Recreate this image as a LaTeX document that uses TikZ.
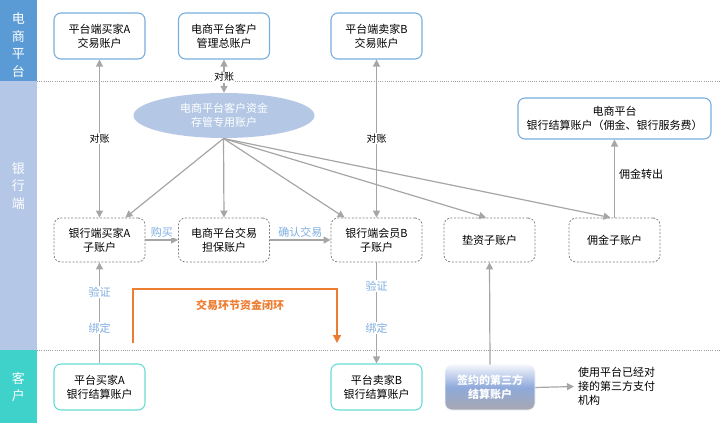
\documentclass[tikz,border=0pt]{standalone}
\usepackage{fontspec}
\setmainfont{Noto Sans CJK SC}
\usetikzlibrary{arrows.meta,shapes.geometric}
\definecolor{bandtop}{HTML}{5B9BD5}
\definecolor{bandmid}{HTML}{B4C7E7}
\definecolor{bandbot}{HTML}{3ED2CA}
\definecolor{bluebd}{HTML}{7AAEE0}
\definecolor{tealbd}{HTML}{6ADCD5}
\definecolor{dashgray}{HTML}{808080}
\definecolor{arrgray}{HTML}{A6A6A6}
\definecolor{ellfill}{HTML}{B4C8E6}
\definecolor{lblblue}{HTML}{7FAEE0}
\definecolor{orangeln}{HTML}{ED7D31}
\definecolor{dotgray}{HTML}{A0A0A0}
\definecolor{gradmid}{HTML}{8EA9DB}
\definecolor{gradtop}{HTML}{F2F5FB}
\definecolor{gradbot}{HTML}{A8A8B0}
\newcommand\myNodeFont{\fontsize{11pt}{14pt}\selectfont}
\newcommand\myLabFont{\fontsize{10pt}{12pt}\selectfont}
\newcommand\myBandFont{\fontsize{13pt}{17.5pt}\selectfont}
\tikzset{
  topbox/.style={draw=bluebd, line width=1.1pt, rounded corners=7pt, minimum width=91pt, minimum height=46pt, align=center, inner sep=0pt, font=\myNodeFont, fill=white},
  subbox/.style={draw=dashgray, dash pattern=on 2pt off 1.6pt, line width=0.8pt, rounded corners=7pt, minimum width=91pt, minimum height=44pt, align=center, inner sep=0pt, font=\myNodeFont, fill=white},
  custbox/.style={draw=tealbd, line width=1.1pt, rounded corners=7pt, minimum width=91pt, minimum height=46pt, align=center, inner sep=0pt, font=\myNodeFont, fill=white},
  conn/.style={draw=arrgray, line width=1.2pt, -{Triangle[length=7pt,width=7pt]}},
  biconn/.style={draw=arrgray, line width=1.2pt, {Triangle[length=7pt,width=7pt]}-{Triangle[length=7pt,width=7pt]}},
  lab/.style={font=\myLabFont, fill=white, inner sep=1pt},
  bluelab/.style={font=\myNodeFont, text=lblblue, fill=white, inner sep=1pt},
  bandtext/.style={text=white, font=\myBandFont, align=center},
  divline/.style={draw=dotgray, line width=0.7pt, dash pattern=on 0.8pt off 1.4pt},
}
\begin{document}
\begin{tikzpicture}[x=1pt,y=-1pt]
\useasboundingbox (0,0) rectangle (720,423);
\fill[white] (0,0) rectangle (720,423);
% bands
\fill[bandtop] (0,0) rectangle (37,81);
\fill[bandmid] (0,81) rectangle (37,350);
\fill[bandbot] (0,350) rectangle (37,423);
\node[bandtext] (t1) at (18.5,45) {电\\商\\平\\台};
\node[bandtext] (t2) at (18.5,186) {银\\行\\端};
\node[bandtext] (t3) at (18.5,387) {客\\户};
% divider lines
\draw[divline] (37,81) -- (720,81);
\draw[divline] (37,350) -- (720,350);

% top row
\node[topbox] (pA) at (99.5,36) {平台端买家A\\交易账户};
\node[topbox] (pM) at (224,36) {电商平台客户\\管理总账户};
\node[topbox] (pB) at (376.5,36) {平台端卖家B\\交易账户};

% ellipse
\node[ellipse, fill=ellfill, minimum width=181pt, minimum height=45pt, inner sep=0pt, align=center, text=white, font=\myNodeFont] (E) at (224,115.5) {电商平台客户资金\\存管专用账户};

\node[topbox, minimum width=193pt, minimum height=41pt] (pS) at (614.5,118.5) {电商平台\\银行结算账户（佣金、银行服务费）};

% bank sub-accounts
\node[subbox] (bA) at (99.5,240) {银行端买家A\\子账户};
\node[subbox] (bG) at (224,240) {电商平台交易\\担保账户};
\node[subbox] (bB) at (376.5,240) {银行端会员B\\子账户};
\node[subbox] (bD) at (489.5,240) {垫资子账户};
\node[subbox] (bC) at (614.5,240) {佣金子账户};

% customer row
\node[custbox] (cA) at (99.5,387) {平台买家A\\银行结算账户};
\node[custbox] (cB) at (376.5,387) {平台卖家B\\银行结算账户};
\node[rounded corners=7pt, minimum width=90pt, minimum height=45pt, inner sep=0pt, align=center, text=white, font=\myNodeFont\bfseries,
      draw=gradtop, line width=0.6pt,
      top color=gradtop, bottom color=gradbot, middle color=gradmid] (cT) at (490,387.5) {签约的第三方\\结算账户};
\node[anchor=west, align=left, font=\myNodeFont, inner sep=0pt] (cX) at (578,386.5) {使用平台已经对\\接的第三方支付\\机构};

% connectors
\draw[biconn] (bA.north) -- (pA.south) node[lab, pos=0.5] (l1) {对账};
\draw[biconn] (E.north) -- (pM.south) node[lab, pos=0.47] (l2) {对账};
\draw[biconn] (bB.north) -- (pB.south) node[lab, pos=0.5] (l3) {对账};

\coordinate (Es) at (223.5,138.5);
\draw[conn] (Es) -- ([xshift=-20pt]bA.north east);
\draw[conn] (Es) -- (bG.north);
\draw[conn] (Es) -- ([xshift=14pt]bB.north west);
\draw[conn] (Es) -- ([xshift=-3.5pt]bD.north);
\draw[conn] (Es) -- ([xshift=-4pt]bC.north);

\draw[conn] (bC.north) -- (pS.south) node[pos=0.55, right=4pt, font=\myNodeFont, inner sep=0pt] (l4) {佣金转出};

\draw[conn] (bA.east) -- (bG.west) node[bluelab, pos=0.5, above=1pt] (l5) {购买};
\draw[conn] (bG.east) -- (bB.west) node[bluelab, pos=0.5, above=1pt] (l6) {确认交易};

\draw[conn] (cA.north) -- (bA.south);
\node[bluelab] (l7) at (99.5,292) {验证};
\node[bluelab] (l8) at (99.5,328) {绑定};
\draw[conn] (bB.south) -- (cB.north);
\node[bluelab] (l9) at (376.5,286) {验证};
\node[bluelab] (l10) at (376.5,328) {绑定};

\draw[conn] (cT.north) -- (bD.south);
\draw[conn] (cT.east) -- ([xshift=-4pt]cX.west);

% orange loop
\coordinate (o1) at (133,343);
\coordinate (o2) at (133,289);
\coordinate (o3) at (337,289);
\coordinate (o4) at (337,343);
\draw[draw=orangeln, line width=1.3pt, -{Triangle[length=8pt,width=8pt]}] (o1) -- (o2) -- (o3) -- (o4);
\node[text=orangeln, font=\myNodeFont\bfseries] (l11) at (240,305) {交易环节资金闭环};
\end{tikzpicture}
\end{document}
